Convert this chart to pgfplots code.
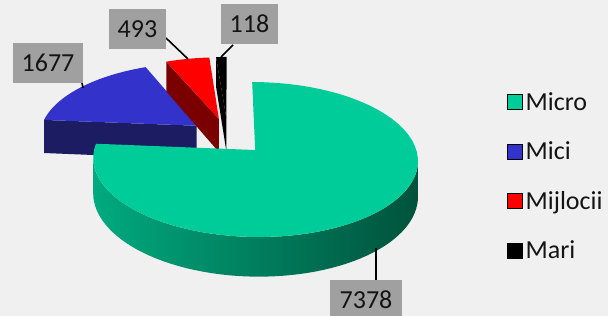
\documentclass[border=0pt]{standalone}
\usepackage{pgfplots}
\usepackage{pgfplotstable}
\pgfplotsset{compat=1.18}
\usepackage{fontspec}
\setmainfont{Carlito}

\definecolor{bg}{RGB}{240,240,240}
\definecolor{micro}{RGB}{0,204,153}
\definecolor{microL}{RGB}{0,170,127}
\definecolor{microM}{RGB}{0,128,94}
\definecolor{microR}{RGB}{0,82,60}
\definecolor{mici}{RGB}{51,51,204}
\definecolor{micis}{RGB}{28,28,98}
\definecolor{mij}{RGB}{255,0,0}
\definecolor{mijs}{RGB}{122,0,0}
\definecolor{mari}{RGB}{0,0,0}
\definecolor{lblgray}{RGB}{160,160,160}
\definecolor{txt}{RGB}{20,20,20}

\pgfplotstableread{
name value
Micro 7378
Mici 1677
Mijlocii 493
Mari 118
}\piedata

\tikzset{declare function={
  projx(\u,\v)=227.9+157.6*\u/(1+0.12*\v);
  projy(\u,\v)=179.7+73*\v/(1+0.12*\v);
  projz(\v)=34/(1+0.12*\v);
}}

% top face of a slice: #1,#2 offset, #3,#4 angles, #5 options
\newcommand\slicetop[5]{%
  \addplot[#5, draw=none, forget plot, domain=0:3, samples=181, variable=\s]
  ({projx((#1)+(min(\s,1)-max(\s-2,0))*cos((#3)+((#4)-(#3))*min(max(\s-1,0),1)),
          (#2)+(min(\s,1)-max(\s-2,0))*sin((#3)+((#4)-(#3))*min(max(\s-1,0),1)))},
   {projy((#1)+(min(\s,1)-max(\s-2,0))*cos((#3)+((#4)-(#3))*min(max(\s-1,0),1)),
          (#2)+(min(\s,1)-max(\s-2,0))*sin((#3)+((#4)-(#3))*min(max(\s-1,0),1)))});
}
% outer wall
\newcommand\slicewall[5]{%
  \addplot[#5, draw=none, forget plot, domain=0:3, samples=181, variable=\s]
  ({projx((#1)+cos((#3)+((#4)-(#3))*(min(\s,1)-max(\s-2,0))),
          (#2)+sin((#3)+((#4)-(#3))*(min(\s,1)-max(\s-2,0))))},
   {projy((#1)+cos((#3)+((#4)-(#3))*(min(\s,1)-max(\s-2,0))),
          (#2)+sin((#3)+((#4)-(#3))*(min(\s,1)-max(\s-2,0))))
    -min(max(\s-1,0),1)*projz((#2)+sin((#3)+((#4)-(#3))*(min(\s,1)-max(\s-2,0))))});
}
% radial face at angle #3
\newcommand\sliceface[4]{%
  \addplot[#4, draw=none, forget plot, samples at={0,1,2,3}, variable=\s]
  ({projx((#1)+(min(\s,1)-max(\s-2,0))*cos(#3),(#2)+(min(\s,1)-max(\s-2,0))*sin(#3))},
   {projy((#1)+(min(\s,1)-max(\s-2,0))*cos(#3),(#2)+(min(\s,1)-max(\s-2,0))*sin(#3))
    -min(max(\s-1,0),1)*projz((#2)+(min(\s,1)-max(\s-2,0))*sin(#3))});
}

\begin{document}
\begin{tikzpicture}
\pgfplotstablegetelem{0}{value}\of\piedata\let\vA\pgfplotsretval
\pgfplotstablegetelem{1}{value}\of\piedata\let\vB\pgfplotsretval
\pgfplotstablegetelem{2}{value}\of\piedata\let\vC\pgfplotsretval
\pgfplotstablegetelem{3}{value}\of\piedata\let\vD\pgfplotsretval
\pgfmathsetmacro\tot{\vA+\vB+\vC+\vD}
\pgfmathsetmacro\tA{90}
\pgfmathsetmacro\tB{\tA-360*(\vA/\tot)}
\pgfmathsetmacro\tC{\tB-360*(\vB/\tot)}
\pgfmathsetmacro\tD{\tC-360*(\vC/\tot)}
\pgfmathsetmacro\tE{\tD-360*(\vD/\tot)}
\pgfmathsetmacro\uA{0.25*cos((\tA+\tB)/2)}\pgfmathsetmacro\wA{0.25*sin((\tA+\tB)/2)}
\pgfmathsetmacro\uB{0.25*cos((\tB+\tC)/2)}\pgfmathsetmacro\wB{0.25*sin((\tB+\tC)/2)}
\pgfmathsetmacro\uC{0.25*cos((\tC+\tD)/2)}\pgfmathsetmacro\wC{0.25*sin((\tC+\tD)/2)}
\pgfmathsetmacro\uD{0.25*cos((\tD+\tE)/2)}\pgfmathsetmacro\wD{0.25*sin((\tD+\tE)/2)}
\begin{axis}[
  width=608pt, height=316pt, scale only axis,
  xmin=0, xmax=608, ymin=0, ymax=316,
  hide axis, clip=false,
  legend style={at={(axis cs:504,227)}, anchor=north west, draw=none, fill=none,
    font=\fontsize{26}{31}\selectfont, row sep=28pt,
    nodes={inner xsep=3pt, inner ysep=1pt, text=txt}},
  legend cell align=left,
  legend image code/.code={\fill[#1] (0pt,-7.5pt) rectangle (15pt,7.5pt);},
]
\fill[bg] (axis cs:0,0) rectangle (axis cs:608,316);
% Mici
\sliceface{\uB}{\wB}{\tB}{fill=micis}
\slicetop{\uB}{\wB}{\tC}{\tB}{fill=mici}
% Mijlocii
\sliceface{\uC}{\wC}{\tC}{fill=mijs}
\slicetop{\uC}{\wC}{\tD}{\tC}{fill=mij}
% Mari
\sliceface{\uD}{\wD}{\tD}{fill=mari}
\slicetop{\uD}{\wD}{\tE}{\tD}{fill=mari}
% Micro
\slicewall{\uA}{\wA}{-174.2}{-8.3}{left color=microL, middle color=microM, right color=microR}
\slicetop{\uA}{\wA}{\tB}{\tA}{fill=micro}

\addlegendimage{fill=micro}\addlegendentry{Micro}
\addlegendimage{fill=mici}\addlegendentry{Mici}
\addlegendimage{fill=mij}\addlegendentry{Mijlocii}
\addlegendimage{fill=mari}\addlegendentry{Mari}

% leader lines
\draw[black, line width=1.6pt] (axis cs:82,233) -- (axis cs:83,228);
\draw[black, line width=1.6pt] (axis cs:166,278) -- (axis cs:188,257);
\draw[black, line width=1.6pt] (axis cs:233,271) -- (axis cs:221,259);
\draw[black, line width=1.6pt] (axis cs:376,68) -- (axis cs:376,36);
% data labels
\tikzset{lbl/.style={fill=lblgray, text=txt, inner sep=0pt, minimum height=40pt,
  font=\fontsize{26}{31}\selectfont}}
\node[lbl, minimum width=70pt] at (axis cs:48,253) {1677};
\node[lbl, minimum width=57pt] at (axis cs:137.5,287) {493};
\node[lbl, minimum width=57pt] at (axis cs:249.5,292) {118};
\node[lbl, minimum width=72pt] at (axis cs:366,16) {7378};
\end{axis}
\pgfresetboundingbox
\path[use as bounding box] (current axis.south west) rectangle (current axis.north east);
\end{tikzpicture}
\end{document}
